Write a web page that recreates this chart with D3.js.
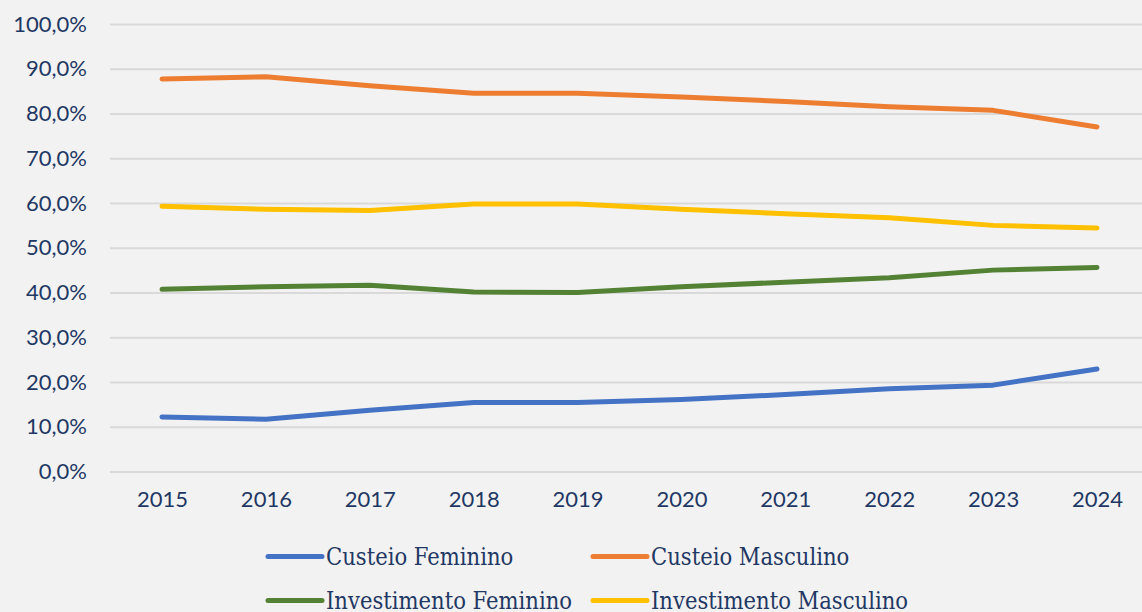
<!DOCTYPE html>
<html>
<head>
<meta charset="utf-8">
<script src="https://cdn.jsdelivr.net/npm/d3@7"></script>
<style>
  body { margin: 0; background: #f2f2f2; }
  svg { display: block; }
</style>
</head>
<body>
<div id="chart"></div>
<script>
// dados (percentual)
var anos = ["2015", "2016", "2017", "2018", "2019", "2020", "2021", "2022", "2023", "2024"];
var custeioFeminino = [12.2, 11.7, 13.7, 15.4, 15.4, 16.1, 17.2, 18.5, 19.3, 22.9];
var custeioMasculino = [87.7, 88.2, 86.2, 84.5, 84.5, 83.7, 82.7, 81.5, 80.7, 77.0];
var investimentoFeminino = [40.7, 41.3, 41.6, 40.1, 40.0, 41.3, 42.3, 43.3, 45.0, 45.6];
var investimentoMasculino = [59.3, 58.6, 58.3, 59.8, 59.8, 58.6, 57.6, 56.7, 55.0, 54.4];
var yTicks = [0, 10, 20, 30, 40, 50, 60, 70, 80, 90, 100];

var series = [
  { nome: "Custeio Feminino", valores: custeioFeminino, cor: "#4472c4" },
  { nome: "Custeio Masculino", valores: custeioMasculino, cor: "#ed7d31" },
  { nome: "Investimento Feminino", valores: investimentoFeminino, cor: "#548235" },
  { nome: "Investimento Masculino", valores: investimentoMasculino, cor: "#ffc000" }
];

var width = 1142, height = 612;
var textColor = "#1f3864";

var svg = d3.select("#chart")
  .append("svg")
    .attr("width", width)
    .attr("height", height)
    .style("background", "#f2f2f2");

// escalas
var x = d3.scalePoint()
  .domain(anos)
  .range([162, 1097]);

var y = d3.scaleLinear()
  .domain([0, 100])
  .range([471.5, 24]);

// eixo y com linhas de grade
var fmt = function(d) { return d3.format(".1f")(d).replace(".", ",") + "%"; };
var gy = svg.append("g")
  .attr("transform", "translate(110,0)")
  .call(d3.axisLeft(y).tickValues(yTicks).tickFormat(fmt).tickSize(-(width - 110)).tickPadding(23));
gy.select(".domain").remove();
gy.selectAll(".tick line")
  .attr("stroke", "#d9d9d9")
  .attr("stroke-width", 2);
gy.selectAll(".tick text")
  .attr("fill", textColor)
  .style("font-family", "Lato")
  .style("font-size", "22px");

// eixo x
var gx = svg.append("g")
  .attr("transform", "translate(0,471.5)")
  .call(d3.axisBottom(x).tickSize(0).tickPadding(20));
gx.select(".domain").remove();
gx.selectAll(".tick text")
  .attr("fill", textColor)
  .style("font-family", "Lato")
  .style("font-size", "22px");

// linhas
var line = d3.line()
  .x(function(d, i) { return x(anos[i]); })
  .y(function(d) { return y(d); });

svg.selectAll(".serie")
  .data(series)
  .enter()
  .append("path")
    .attr("class", "serie")
    .attr("d", function(d) { return line(d.valores); })
    .attr("fill", "none")
    .attr("stroke", function(d) { return d.cor; })
    .attr("stroke-width", 5)
    .attr("stroke-linecap", "round")
    .attr("stroke-linejoin", "round");

// legenda
var legX = [268, 593], legY = [556.5, 600.5];
var leg = svg.selectAll(".leg")
  .data(series)
  .enter()
  .append("g")
    .attr("class", "leg")
    .attr("transform", function(d, i) { return "translate(" + legX[i % 2] + "," + legY[Math.floor(i / 2)] + ")"; });

leg.append("line")
  .attr("x1", 0).attr("x2", 54)
  .attr("stroke", function(d) { return d.cor; })
  .attr("stroke-width", 5)
  .attr("stroke-linecap", "round");

leg.append("text")
  .attr("x", 58)
  .attr("y", 8)
  .attr("fill", textColor)
  .style("font-family", "DejaVu Serif Condensed")
  .style("font-size", "23.5px")
  .text(function(d) { return d.nome; });
</script>
</body>
</html>
